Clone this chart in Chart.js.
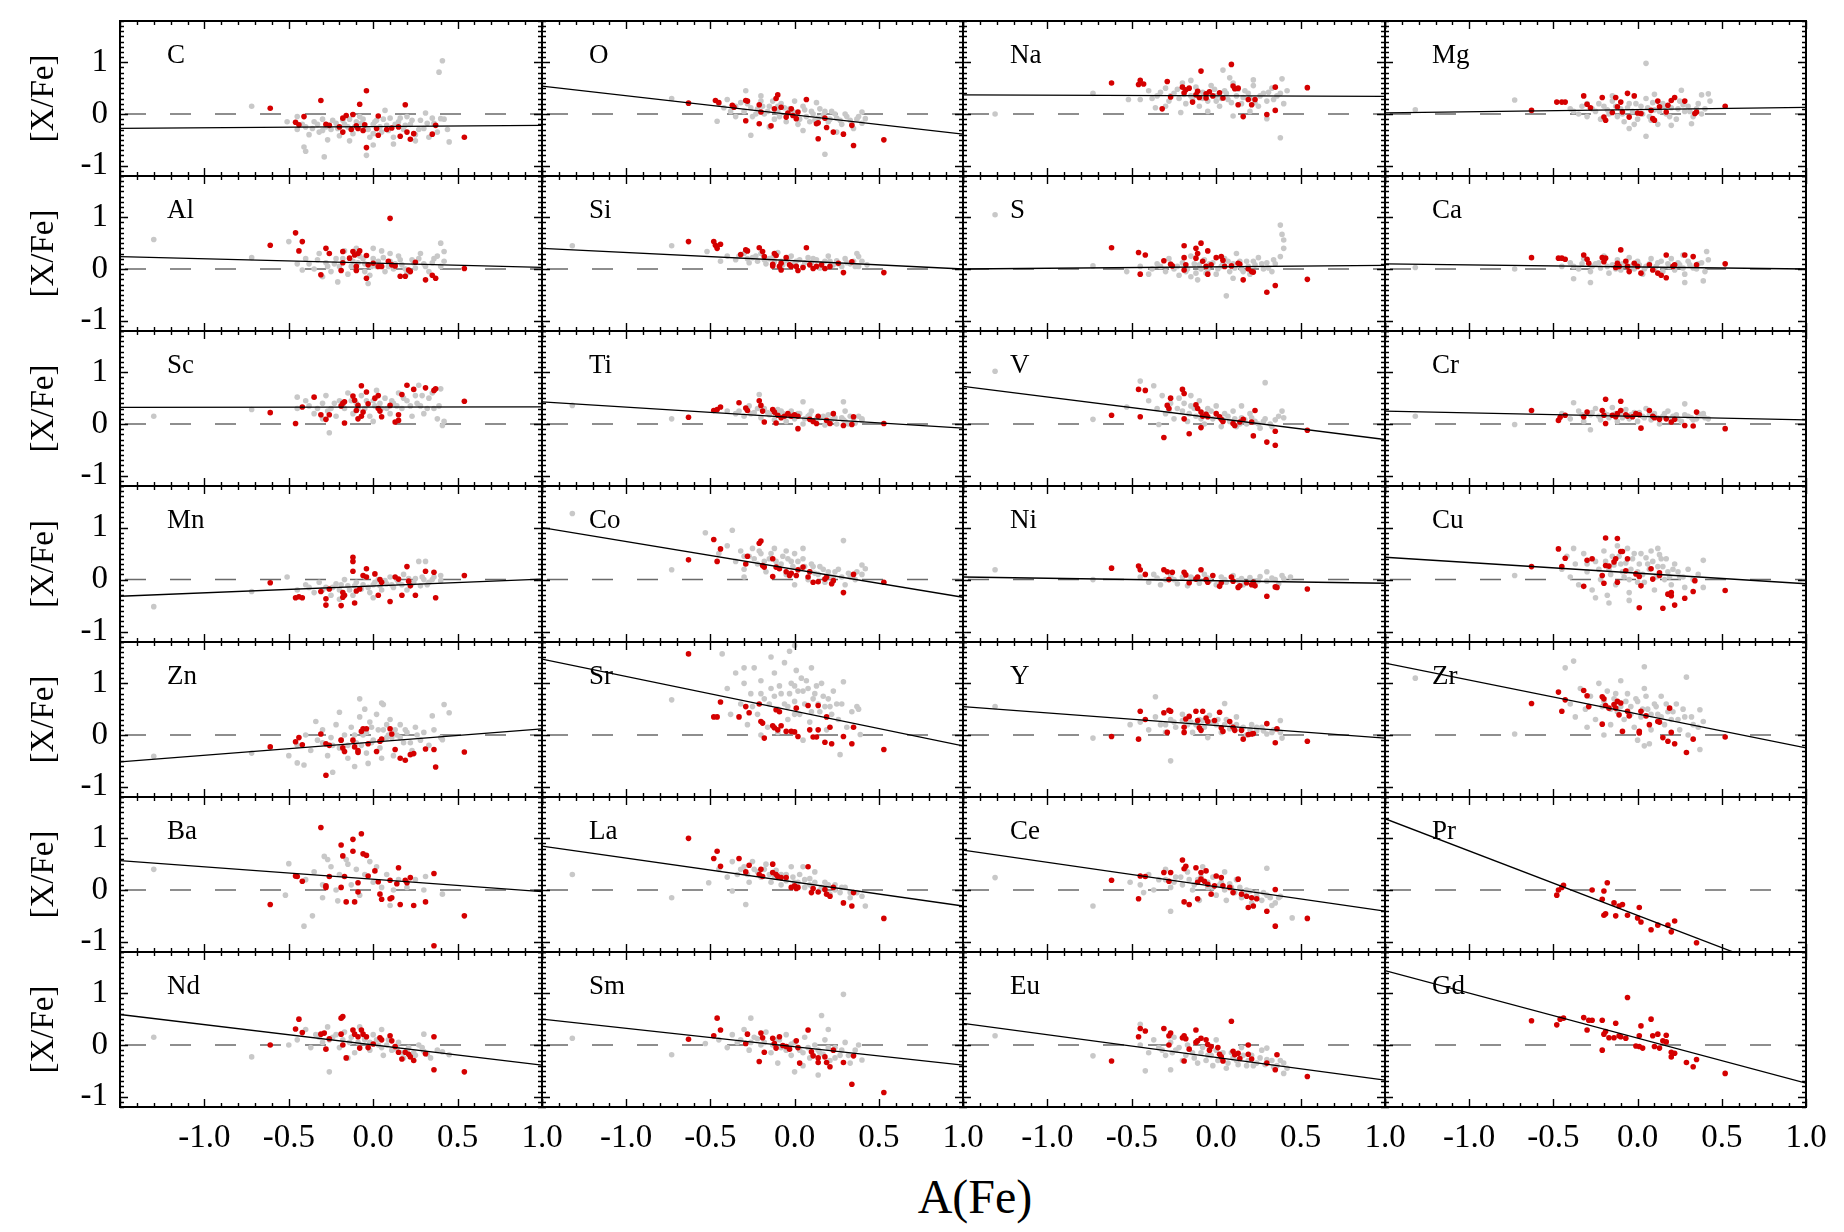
<!DOCTYPE html>
<html><head><meta charset="utf-8">
<script src="https://cdn.jsdelivr.net/npm/chart.js@4.4.1/dist/chart.umd.min.js"></script>
<style>
html,body{margin:0;padding:0;background:#fff;}
#wrap{position:relative;width:1844px;height:1232px;overflow:hidden;background:#fff;}
#wrap canvas{position:absolute;}
#xtitle{position:absolute;left:775px;width:400px;top:1173px;text-align:center;font:48px "Liberation Serif";line-height:48px;color:#000;}
#fontprobe{position:absolute;left:-500px;top:-100px;font:33px "Liberation Serif";}
</style></head><body><div id="wrap"><div id="xtitle">A(Fe)</div></div><span id="fontprobe">[X/Fe] -1.0 CNaMg</span>
<script>
// ---- axis settings / tick labels ----
const xRange = [-1.5, 1.0];
const yRange = [-1.2, 1.8];
const xTickValues = [-1.0, -0.5, 0.0, 0.5, 1.0];
const yTickValues = [-1, 0, 1];
const elements = ['C','O','Na','Mg','Al','Si','S','Ca','Sc','Ti','V','Cr','Mn','Co','Ni','Cu','Zn','Sr','Y','Zr','Ba','La','Ce','Pr','Nd','Sm','Eu','Gd'];
// fit line: [X/Fe] at A(Fe)=-1.5 and at A(Fe)=1.0
const fitAtLeft  = [-0.28,0.54,0.37,0.02, 0.24,0.40,0.00,0.10, 0.32,0.43,0.73,0.25, -0.32,1.00,0.05,0.43, -0.52,1.47,0.55,1.39, 0.57,0.85,0.77,1.38, 0.59,0.50,0.42,1.44];
const fitAtRight = [-0.22,-0.39,0.34,0.13, 0.03,0.00,0.07,0.00, 0.33,-0.08,-0.30,0.08, 0.01,-0.34,-0.07,-0.08, 0.12,-0.21,-0.06,-0.25, -0.03,-0.31,-0.41,-1.74, -0.39,-0.39,-0.68,-0.74];

// ---- data: flat [x,y,x,y,...] pairs ----
const C_red=[-0.61,0.11,-0.31,0.26,-0.04,0.45,-0.08,0.19,0.19,0.18,-0.41,-0.05,-0.46,-0.16,-0.44,-0.21,-0.28,-0.2,-0.26,-0.22,-0.18,-0.08,-0.16,-0.03,-0.12,-0.01,-0.18,-0.35,-0.10,-0.23,-0.09,-0.28,-0.05,-0.21,-0.04,-0.65,0.02,-0.28,0.03,-0.04,0.03,-0.41,0.11,-0.27,0.15,-0.25,0.16,-0.43,0.22,-0.49,0.24,-0.38,0.37,-0.22,0.35,-0.39,0.54,-0.45,-0.13,-0.30,-0.2,-0.25,0.08,-0.3,0.2,-0.35,-0.06,-0.32];
const C_gray=[-0.72,0.15,0.39,0.81,0.41,1.03,-0.41,-0.64,-0.40,-0.72,-0.29,-0.83,-0.04,-0.80,0.45,-0.54,0.40,-0.09,0.31,0.02,0.07,0.07,-0.51,-0.15,-0.45,-0.30,-0.40,-0.25,-0.35,-0.15,-0.32,-0.35,-0.3,-0.1,-0.25,-0.3,-0.22,-0.18,-0.2,-0.42,-0.18,-0.12,-0.15,-0.25,-0.12,-0.38,-0.1,-0.15,-0.08,-0.05,-0.05,-0.3,-0.02,-0.45,0,-0.2,0.02,-0.12,0.05,-0.35,0.08,-0.22,0.1,-0.08,0.12,-0.45,0.15,-0.15,0.18,-0.3,0.2,-0.05,0.22,-0.2,0.25,-0.4,0.28,-0.12,0.3,-0.28,0.33,-0.45,0.36,-0.18,0.38,-0.35,0.42,-0.1,0.44,-0.3,-0.38,-0.4,-0.27,-0.5,-0.14,-0.52,0.0,-0.6,0.12,-0.58,-0.45,-0.05,-0.06,-0.1,0.25,-0.52,
 -0.42,-0.2,-0.36,-0.28,-0.33,-0.2,-0.28,-0.25,-0.24,-0.12,-0.21,-0.28,-0.17,-0.2,-0.14,-0.1,-0.11,-0.25,-0.07,-0.18,-0.03,-0.3,0.01,-0.15,0.04,-0.25,0.06,-0.1,0.09,-0.32,0.13,-0.2,0.16,-0.08,0.19,-0.22,0.23,-0.12,0.27,-0.3,0.32,-0.18,0.35,-0.08,-0.3,-0.32,0.0,-0.38];
const O_red=[-0.63,0.21,-0.47,0.26,-0.45,0.22,-0.37,0.17,-0.36,0.13,-0.29,0.26,-0.28,0.25,-0.21,0.18,-0.2,0.04,-0.29,-0.13,-0.21,-0.19,-0.14,-0.23,-0.11,0.30,-0.1,0.37,-0.12,0.1,-0.08,0.13,-0.04,0.02,-0.05,-0.06,-0.01,-0.03,0.01,-0.09,0.07,0.28,0.13,-0.19,0.14,-0.17,0.14,-0.48,0.19,-0.26,0.18,-0.08,0.23,-0.35,0.29,-0.39,0.34,-0.22,0.35,-0.61,0.53,-0.5,-0.02,0.1,0.02,0.04];
const O_gray=[-0.73,0.3,-0.29,0.45,-0.26,-0.41,0.18,-0.78,-0.46,-0.14,0.42,-0.09,0.40,0.04,-0.45,0.2,-0.4,0.28,-0.35,0.15,-0.3,0.05,-0.28,0.2,-0.25,-0.05,-0.22,0.1,-0.2,0.25,-0.18,0.0,-0.15,0.15,-0.12,-0.1,-0.1,0.05,-0.08,0.2,-0.05,-0.15,-0.03,0.1,0,0,0.02,-0.2,0.05,0.15,0.07,-0.05,0.1,0.05,0.12,-0.12,0.15,0.1,0.17,-0.02,0.2,-0.15,0.22,0.05,0.25,-0.08,0.28,-0.2,0.3,0.0,0.33,-0.12,0.35,-0.28,0.38,-0.05,0.4,-0.18,-0.35,-0.05,-0.15,-0.25,0.05,-0.32,0.25,-0.35,0.0,0.25,-0.2,0.35,0.13,0.22,
 -0.42,0.12,-0.38,0.05,-0.32,0.22,-0.26,0.12,-0.23,0.0,-0.19,0.15,-0.16,0.05,-0.13,0.25,-0.09,-0.05,-0.06,0.12,-0.01,0.05,0.03,-0.1,0.06,0.08,0.09,-0.15,0.11,0.0,0.14,-0.08,0.18,0.05,0.21,-0.1,0.24,0.0,0.27,-0.12,0.31,-0.05,0.34,-0.18,0.37,-0.1,-0.1,0.15];
const Na_red=[-0.62,0.60,-0.46,0.57,-0.45,0.65,-0.43,0.58,-0.29,0.63,-0.32,0.10,-0.27,0.33,-0.2,0.52,-0.19,0.41,-0.18,0.47,-0.16,0.5,-0.12,0.37,-0.11,0.44,-0.09,0.83,-0.1,0.32,-0.06,0.31,-0.04,0.43,-0.02,0.35,0.02,0.41,0.04,0.31,0.09,0.96,0.10,0.54,0.11,0.49,0.13,0.5,0.13,0.18,0.16,-0.05,0.19,0.28,0.21,0.18,0.23,0.28,0.30,-0.01,0.35,0.07,0.35,0.52,0.54,0.51,-0.06,0.39,-0.14,0.23];
const Na_gray=[-1.31,0.0,-0.73,0.4,-0.52,0.28,-0.45,0.28,-0.36,0.12,-0.21,0.03,0.04,0.85,0.10,-0.04,0.38,-0.46,0.39,0.68,0.22,0.66,0.3,-0.09,-0.4,0.45,-0.35,0.35,-0.3,0.5,-0.28,0.25,-0.25,0.4,-0.22,0.3,-0.2,0.6,-0.18,0.2,-0.15,0.35,-0.12,0.52,-0.1,0.15,-0.08,0.42,-0.05,0.25,-0.03,0.55,0,0.35,0.02,0.15,0.05,0.45,0.07,0.28,0.1,0.6,0.12,0.35,0.15,0.2,0.17,0.45,0.2,0.3,0.22,0.55,0.25,0.15,0.28,0.4,0.3,0.25,0.33,0.5,0.36,0.35,0.4,0.2,0.42,0.45,-0.3,0.15,-0.05,0.05,0.2,0.05,-0.15,0.65,0.08,0.7,
 -0.38,0.3,-0.33,0.42,-0.27,0.35,-0.23,0.48,-0.19,0.38,-0.14,0.28,-0.11,0.45,-0.06,0.38,-0.01,0.48,0.03,0.3,0.06,0.4,0.09,0.22,0.13,0.48,0.16,0.32,0.19,0.4,0.23,0.22,0.26,0.35,0.31,0.42,0.34,0.28,0.38,0.4,-0.08,0.3,0.0,0.25];
const Mg_red=[-0.63,0.07,-0.48,0.23,-0.45,0.23,-0.43,0.23,-0.32,0.35,-0.30,0.19,-0.28,0.12,-0.21,0.32,-0.2,-0.06,-0.19,-0.12,-0.15,0.03,-0.13,0.32,-0.12,0.14,-0.1,0.23,-0.09,0.04,-0.06,0.40,-0.05,-0.06,-0.02,0.35,0,0.02,0.02,0.01,0.08,0.07,0.09,-0.09,0.1,-0.12,0.12,0.25,0.13,0.14,0.17,0.04,0.18,0.17,0.2,0.26,0.22,0.32,0.28,0.25,0.34,0.01,0.35,0.04,0.52,0.15];
const Mg_gray=[-1.32,0.08,-0.73,0.27,0.05,0.98,0.05,-0.43,0.32,-0.19,0.26,0.46,0.42,0.39,0.38,0.37,0.2,-0.22,-0.4,0.1,-0.35,0.0,-0.3,0.2,-0.25,0.05,-0.22,-0.1,-0.2,0.15,-0.17,0.0,-0.15,0.25,-0.12,-0.05,-0.1,0.1,-0.08,-0.15,-0.05,0.2,-0.03,0.05,0,-0.1,0.02,0.15,0.05,0.3,0.07,-0.05,0.1,0.08,0.12,-0.2,0.15,0.2,0.17,0.0,0.2,0.12,0.23,-0.1,0.25,0.25,0.28,0.05,0.3,0.15,0.33,-0.05,0.36,0.2,0.4,0.1,0.43,0.25,-0.3,-0.05,-0.05,-0.28,0.1,0.38,-0.15,0.35,
 -0.38,0.05,-0.33,0.15,-0.27,0.1,-0.23,0.2,-0.18,0.08,-0.13,0.15,-0.09,0.0,-0.06,0.12,-0.01,0.2,0.03,0.0,0.06,0.12,0.09,0.22,0.13,0.05,0.16,0.15,0.19,-0.05,0.24,0.1,0.27,0.18,0.31,0.05,0.35,0.1,0.38,0.0,-0.02,-0.2,0.08,-0.12];
const Al_red=[-0.61,0.46,-0.46,0.70,-0.42,0.53,-0.44,0.35,-0.31,-0.11,-0.28,0.4,-0.26,0.30,-0.18,0.34,-0.18,0.12,-0.19,-0.03,-0.12,0.34,-0.11,0.27,-0.09,0.3,-0.08,0.35,-0.1,0.05,-0.1,-0.03,-0.04,0.26,-0.04,-0.18,-0.03,0.08,0.03,0.05,0.05,0.05,0.1,0.98,0.09,0.15,0.11,0.08,0.13,0.06,0.16,-0.14,0.19,-0.14,0.21,-0.02,0.22,-0.05,0.25,0.13,0.31,-0.21,0.35,-0.12,0.37,-0.18,0.54,0.01,-0.14,0.21,0,0.11];
const Al_gray=[-1.30,0.57,-0.72,0.22,-0.50,0.53,0.40,0.50,0.42,0.34,-0.03,-0.28,-0.21,-0.25,-0.42,-0.02,-0.45,0.1,-0.4,0.2,-0.35,0.0,-0.32,0.3,-0.28,0.12,-0.25,-0.05,-0.22,0.2,-0.2,0.05,-0.17,0.35,-0.15,-0.1,-0.12,0.15,-0.1,0.0,-0.08,0.25,-0.05,0.1,-0.02,-0.12,0,0.2,0.02,0.05,0.05,0.35,0.07,-0.05,0.1,0.15,0.12,0.0,0.15,0.25,0.17,0.08,0.2,-0.08,0.23,0.18,0.25,0.02,0.28,0.3,0.3,0.1,0.33,-0.05,0.36,0.2,0.4,0.05,0.42,0.15,-0.3,-0.15,0.0,0.4,-0.1,0.4,
 -0.38,0.1,-0.33,0.18,-0.27,0.05,-0.23,0.1,-0.18,0.2,-0.13,0.05,-0.09,0.12,-0.06,0.2,-0.01,0.05,0.03,0.15,0.06,0.22,0.09,0.05,0.13,0.1,0.16,0.18,0.19,0.0,0.24,0.12,0.27,0.2,0.31,0.05,0.35,0.12,0.38,0.25,-0.05,-0.05,0.1,0.3];
const Si_red=[-0.63,0.53,-0.48,0.53,-0.47,0.46,-0.46,0.4,-0.44,0.48,-0.32,0.28,-0.29,0.37,-0.28,0.35,-0.21,0.41,-0.19,0.34,-0.18,0.24,-0.13,0.09,-0.13,0.06,-0.12,0.30,-0.11,0.26,-0.09,0.05,-0.08,-0.02,-0.05,0.22,-0.03,0.08,-0.02,0.05,0.01,0.05,0.02,-0.03,0.07,0.41,0.09,0.08,0.11,0.01,0.13,0.05,0.16,0.08,0.18,0.01,0.21,0.05,0.26,0.11,0.29,-0.07,0.34,0.14,0.53,-0.07,0.05,0.03,-0.08,0.11];
const Si_gray=[-1.32,0.45,-0.73,0.45,-0.52,0.34,-0.44,0.15,0.37,0.30,0.38,0.24,-0.4,0.25,-0.35,0.18,-0.3,0.3,-0.27,0.12,-0.25,0.22,-0.22,0.15,-0.2,0.3,-0.17,0.1,-0.15,0.2,-0.12,0.14,-0.1,0.32,-0.07,0.08,-0.05,0.16,-0.02,0.25,0,0.1,0.03,0.18,0.05,0.05,0.08,0.22,0.1,0.12,0.13,0.18,0.15,0.02,0.18,0.15,0.2,0.25,0.23,0.08,0.25,0.16,0.28,0.05,0.3,0.2,0.33,0.1,0.36,0.05,0.4,0.15,0.43,0.08,
 -0.33,0.25,-0.28,0.2,-0.23,0.25,-0.18,0.18,-0.13,0.22,-0.08,0.15,-0.04,0.22,0.01,0.15,0.06,0.12,0.11,0.2,0.16,0.1,0.21,0.15,0.26,0.1,0.31,0.12,0.35,0.15,0.38,0.05];
const S_red=[-0.62,0.41,-0.46,0.32,-0.42,0.27,-0.45,-0.10,-0.31,0.16,-0.27,0.09,-0.26,0.06,-0.19,0.45,-0.19,0.22,-0.18,0.08,-0.19,-0.02,-0.12,0.4,-0.11,0.3,-0.12,0.21,-0.09,0.5,-0.08,0.15,-0.06,0.05,-0.05,0.35,-0.05,-0.10,-0.03,0.08,0,0.22,0.03,0.24,0.04,0.17,0.05,0.05,0.09,0.06,0.13,0.11,0.14,0.09,0.16,-0.21,0.19,0,0.21,-0.05,0.22,-0.06,0.30,-0.45,0.35,-0.32,0.54,-0.2];
const S_gray=[0.38,0.85,0.39,0.67,0.40,0.56,0.4,0.4,0.38,0.24,-1.31,1.05,-0.73,0.06,-0.53,-0.05,0.06,-0.52,-0.11,-0.21,-0.45,0.05,-0.4,-0.1,-0.35,0.1,-0.3,-0.05,-0.28,0.2,-0.25,0.0,-0.22,-0.12,-0.2,0.12,-0.17,0.0,-0.15,0.25,-0.12,-0.08,-0.1,0.08,-0.07,0.18,-0.05,-0.02,-0.02,0.12,0,-0.1,0.03,0.05,0.05,0.2,0.08,-0.05,0.1,0.1,0.12,0.3,0.15,0.0,0.18,0.15,0.2,-0.1,0.23,0.08,0.25,0.22,0.28,0.0,0.3,0.12,0.33,-0.05,0.35,0.1,-0.15,-0.15,0.1,-0.18,
 -0.38,0.0,-0.33,0.05,-0.27,0.1,-0.23,0.05,-0.18,-0.05,-0.13,0.1,-0.09,0.0,-0.04,0.1,0.01,0.0,0.04,0.1,0.07,0.15,0.11,0.02,0.14,0.15,0.19,0.05,0.22,0.15,0.27,0.1,0.31,0.02,0.34,0.18,-0.06,-0.08,0.16,-0.05];
const Ca_red=[-0.63,0.22,-0.47,0.21,-0.45,0.21,-0.43,0.19,-0.32,0.27,-0.30,0.19,-0.29,0.11,-0.21,0.22,-0.2,0.14,-0.19,0.21,-0.1,0.37,-0.12,0.11,-0.11,0.05,-0.13,0.03,-0.07,0.15,-0.06,0.05,-0.05,-0.05,-0.02,0.11,0,0.05,0.02,-0.08,0.07,0.08,0.09,-0.02,0.12,-0.08,0.14,-0.12,0.17,-0.17,0.17,0.27,0.21,0.05,0.22,0.08,0.28,0.27,0.33,0.24,0.35,0.08,0.52,0.1];
const Ca_gray=[-1.32,0.03,-0.73,0,-0.38,-0.19,-0.28,-0.26,0.28,-0.26,0.39,-0.23,0.41,0.34,0.27,0.27,-0.45,0.05,-0.4,0.12,-0.35,0.0,-0.32,0.2,-0.28,-0.05,-0.25,0.1,-0.22,0.02,-0.2,0.25,-0.17,-0.08,-0.15,0.08,-0.12,0.18,-0.1,-0.02,-0.07,0.1,-0.05,0.22,-0.02,0.0,0,0.15,0.03,-0.1,0.05,0.05,0.08,0.2,0.1,0.0,0.12,0.12,0.15,-0.05,0.18,0.1,0.2,0.2,0.22,-0.02,0.25,0.08,0.28,-0.1,0.3,0.15,0.33,0.02,0.36,0.1,0.4,-0.05,0.42,0.18,
 -0.38,0.05,-0.33,0.1,-0.27,0.05,-0.23,0.12,-0.18,0.05,-0.13,0.0,-0.09,0.1,-0.04,0.05,0.01,0.08,0.04,0.0,0.07,0.1,0.11,0.05,0.14,0.15,0.19,0.05,0.24,0.12,0.27,0.02,0.31,0.08,0.35,0.0,0.38,0.12];
const Sc_red=[-0.61,0.22,-0.46,0.01,-0.42,0.33,-0.35,0.52,-0.31,0.18,-0.28,0.09,-0.26,0.18,-0.19,0.35,-0.18,0.4,-0.17,0.43,-0.17,0.02,-0.12,0.54,-0.11,0.46,-0.09,0.36,-0.1,0.26,-0.09,0.1,-0.07,0.74,-0.07,0.15,-0.06,0.23,-0.04,0.62,-0.03,0.39,0.01,0.5,0.03,0.55,0.03,0.3,0.04,0.25,0.05,0.14,0.1,0.36,0.13,0.04,0.15,0.07,0.15,0.18,0.17,0.57,0.2,0.75,0.24,0.67,0.31,0.7,0.36,0.65,0.37,0.68,0.54,0.44];
const Sc_gray=[-1.3,0.15,-0.72,0.28,-0.26,-0.17,0.41,-0.03,0.4,0.68,0.27,0.75,-0.45,0.52,-0.45,0.3,-0.4,0.45,-0.35,0.2,-0.3,0.4,-0.28,0.55,-0.25,0.3,-0.22,0.15,-0.2,0.45,-0.17,0.3,-0.15,0.6,-0.12,0.2,-0.1,0.4,-0.07,0.55,-0.05,0.3,-0.02,0.15,0,0.45,0.02,0.65,0.05,0.3,0.07,0.5,0.1,0.2,0.12,0.4,0.15,0.6,0.17,0.3,0.2,0.45,0.23,0.15,0.25,0.55,0.28,0.35,0.3,0.2,0.33,0.5,0.36,0.3,0.38,0.1,0.42,0.05,-0.3,0.1,0.0,0.05,
 -0.38,0.35,-0.33,0.3,-0.27,0.25,-0.23,0.4,-0.18,0.35,-0.13,0.45,-0.09,0.3,-0.04,0.45,0.01,0.35,0.04,0.4,0.08,0.3,0.11,0.45,0.14,0.35,0.18,0.5,0.22,0.35,0.26,0.4,0.29,0.55,0.32,0.3,0.35,0.6,0.39,0.35];
const Ti_red=[-0.63,0.13,-0.48,0.26,-0.46,0.28,-0.44,0.33,-0.33,0.41,-0.29,0.31,-0.28,0.26,-0.21,0.45,-0.2,0.36,-0.19,0.25,-0.18,0.04,-0.13,0.28,-0.12,0.23,-0.1,0.17,-0.08,0.12,-0.06,0.15,-0.11,0.02,-0.04,0.2,-0.02,0.15,0,0.18,0.02,0.15,0.02,-0.09,0.09,0.09,0.11,0.05,0.14,0.15,0.13,0.01,0.19,0.07,0.21,0.01,0.23,0.2,0.29,-0.03,0.34,-0.01,0.35,0.14,0.53,0.01];
const Ti_gray=[-1.32,0.36,-0.73,0.1,-0.21,0.57,0.05,0.43,0.29,0.43,0.3,0.25,0.4,0.07,-0.4,0.25,-0.35,0.2,-0.3,0.15,-0.27,0.35,-0.24,0.22,-0.2,0.12,-0.18,0.3,-0.15,0.18,-0.12,0.08,-0.1,0.28,-0.07,0.2,-0.05,0.05,-0.02,0.25,0,0.1,0.03,0.2,0.05,0.0,0.08,0.15,0.1,0.25,0.12,0.05,0.15,0.12,0.18,-0.02,0.2,0.18,0.22,0.08,0.25,0.0,0.28,0.12,0.3,0.05,0.33,0.15,0.36,0.02,0.4,0.1,
 -0.33,0.25,-0.26,0.2,-0.22,0.3,-0.16,0.22,-0.11,0.18,-0.08,0.25,-0.03,0.15,0.02,0.2,0.06,0.1,0.09,0.18,0.13,0.1,0.17,0.15,0.21,0.05,0.24,0.12,0.29,0.08,0.32,0.0,0.35,0.1,0.38,0.15];
const V_red=[-0.62,0.17,-0.46,0.67,-0.42,0.65,-0.45,0.14,-0.31,-0.26,-0.27,0.5,-0.29,0.36,-0.28,0.3,-0.2,0.67,-0.19,0.59,-0.19,0.1,-0.16,-0.19,-0.12,0.37,-0.11,0.3,-0.09,0.23,-0.08,0.15,-0.06,0.19,-0.05,0.14,-0.09,-0.07,0,0.2,0.02,0.14,0.03,0.09,0.04,0.05,0.1,0.01,0.11,-0.03,0.14,0.04,0.16,0.09,0.21,0.04,0.22,-0.23,0.23,0.26,0.30,-0.35,0.35,-0.41,0.35,-0.14,0.54,-0.12];
const V_gray=[-1.31,1.02,-0.73,0.09,-0.45,0.83,-0.37,0.74,0.29,0.8,0.39,0.25,0.4,0.12,-0.34,-0.01,-0.53,0.33,-0.4,0.45,-0.35,0.3,-0.32,0.55,-0.3,0.2,-0.27,0.4,-0.25,0.1,-0.22,0.5,-0.2,0.25,-0.17,0.05,-0.15,0.35,-0.12,0.15,-0.1,0.45,-0.07,0.0,-0.05,0.3,-0.02,0.1,0,0.35,0.03,-0.05,0.05,0.2,0.08,0.05,0.1,0.25,0.12,-0.05,0.15,0.12,0.18,0.0,0.2,0.2,0.23,0.05,0.26,-0.08,0.29,0.1,0.32,0.0,0.35,0.08,-0.15,0.55,0.15,0.35,
 -0.28,0.25,-0.23,0.3,-0.19,0.4,-0.16,0.2,-0.13,0.3,-0.09,0.1,-0.06,0.2,-0.03,0.25,0.01,0.15,0.04,0.08,0.07,0.15,0.11,0.1,0.14,0.0,0.17,0.08,0.21,0.12,0.25,0.0,0.28,0.05,0.33,-0.05,0.37,0.15];
const Cr_red=[-0.63,0.26,-0.47,0.07,-0.46,0.13,-0.43,0.17,-0.32,0.14,-0.30,0.23,-0.21,0.26,-0.2,0.17,-0.19,0.48,-0.19,0.01,-0.15,0.17,-0.13,0.14,-0.12,0.2,-0.1,0.44,-0.1,0.26,-0.07,0.18,-0.06,0.15,-0.03,0.14,-0.01,0.2,0.01,0.18,0.02,-0.08,0.07,0.26,0.09,0.15,0.1,0.12,0.13,0.09,0.17,0.1,0.2,0.04,0.22,0.09,0.28,-0.03,0.33,-0.04,0.35,0.23,0.52,-0.09];
const Cr_gray=[-1.32,0.15,-0.73,-0.01,-0.28,-0.11,-0.38,0.41,0.28,0.39,0.39,0.2,0.42,0.1,-0.45,0.2,-0.4,0.1,-0.35,0.25,-0.32,0.05,-0.28,0.18,-0.25,0.3,-0.22,0.08,-0.2,0.22,-0.17,0.12,-0.15,0.32,-0.12,0.05,-0.1,0.18,-0.07,0.28,-0.05,0.1,-0.02,0.22,0,0.05,0.03,0.15,0.05,0.3,0.08,0.08,0.1,0.2,0.13,0.0,0.15,0.15,0.18,0.25,0.2,0.1,0.23,0.18,0.26,0.05,0.3,0.15,0.33,0.08,0.36,0.2,0.4,0.12,
 -0.33,0.18,-0.27,0.22,-0.23,0.15,-0.18,0.18,-0.13,0.2,-0.09,0.12,-0.04,0.18,0.01,0.22,0.04,0.12,0.07,0.18,0.12,0.12,0.16,0.2,0.21,0.15,0.24,0.1,0.28,0.18,0.32,0.12,0.35,0.1,0.38,0.18];
const Mn_red=[-0.61,-0.06,-0.46,-0.35,-0.44,-0.33,-0.42,-0.35,-0.31,-0.23,-0.28,-0.49,-0.28,-0.37,-0.26,-0.18,-0.18,-0.25,-0.18,-0.34,-0.17,-0.3,-0.19,-0.5,-0.12,0.43,-0.12,0.35,-0.12,0.16,-0.11,-0.45,-0.1,-0.22,-0.08,-0.18,-0.06,0.08,-0.04,0.05,-0.04,0.21,0.01,0.11,0.03,-0.3,0.04,0,0.05,-0.05,0.10,-0.42,0.13,0.05,0.15,0.01,0.17,-0.3,0.2,0.25,0.21,-0.03,0.22,-0.12,0.25,-0.3,0.31,0.16,0.36,0.14,0.37,-0.35,0.54,0.08];
const Mn_gray=[-1.3,-0.52,-0.72,-0.23,-0.51,0.05,0.27,0.35,0.31,0.35,0.4,0.08,-0.45,-0.2,-0.4,-0.1,-0.35,-0.25,-0.32,-0.05,-0.28,-0.15,-0.25,-0.3,-0.22,-0.08,-0.2,-0.2,-0.17,0.0,-0.15,-0.12,-0.12,-0.3,-0.1,-0.05,-0.07,-0.18,-0.05,0.05,-0.02,-0.25,0,-0.1,0.03,0.0,0.05,-0.2,0.08,-0.08,0.1,0.05,0.12,-0.15,0.15,-0.05,0.18,0.1,0.2,-0.2,0.23,-0.08,0.25,0.02,0.28,-0.12,0.3,0.0,0.33,-0.05,0.36,0.05,0.4,-0.02,-0.2,-0.38,0.0,-0.35,
 -0.38,-0.15,-0.3,-0.2,-0.24,-0.15,-0.19,-0.1,-0.14,-0.2,-0.11,-0.12,-0.06,-0.1,-0.03,-0.15,0.01,-0.05,0.04,-0.12,0.07,-0.02,0.11,-0.1,0.14,0.0,0.17,-0.1,0.21,0.02,0.24,-0.05,0.29,0.05,0.32,-0.1,0.35,0.0];
const Co_red=[-0.63,0.38,-0.48,0.77,-0.44,0.59,-0.46,0.35,-0.29,0.3,-0.28,0.45,-0.21,0.7,-0.2,0.74,-0.19,0.27,-0.18,0.24,-0.13,0.06,-0.13,0.4,-0.11,0.24,-0.09,0.21,-0.05,0.15,-0.03,0.08,-0.02,0.12,0.01,0.08,0.05,0.24,0.08,0.05,0.11,-0.05,0.14,-0.04,0.18,0.01,0.19,0.05,0.22,-0.08,0.23,-0.02,0.29,-0.25,0.35,0.1,0.53,-0.05,0.02,0.19,0.09,0.15];
const Co_gray=[-1.32,1.27,-0.73,0.19,-0.53,0.9,-0.37,0.95,0.29,0.75,0.4,0.28,0.42,0.21,-0.45,0.5,-0.4,0.65,-0.35,0.35,-0.32,0.55,-0.3,0.2,-0.27,0.45,-0.25,0.6,-0.22,0.3,-0.2,0.5,-0.17,0.15,-0.15,0.4,-0.12,0.6,-0.1,0.25,-0.07,0.45,-0.05,0.1,-0.02,0.35,0,0.5,0.03,0.2,0.05,0.4,0.08,0.0,0.1,0.3,0.12,0.12,0.15,0.25,0.18,-0.05,0.2,0.15,0.23,0.05,0.26,0.2,0.3,-0.1,0.33,0.05,0.37,0.15,-0.05,0.55,0.05,0.6,-0.3,0.05,0.0,-0.1,
 -0.3,0.45,-0.24,0.4,-0.21,0.55,-0.18,0.35,-0.14,0.5,-0.11,0.35,-0.08,0.3,-0.04,0.4,-0.01,0.25,0.02,0.35,0.06,0.25,0.09,0.15,0.11,0.25,0.14,0.1,0.17,0.2,0.21,0.05,0.24,0.15,0.28,0.05,0.32,0.12,0.36,0.0,0.4,0.1];
const Ni_red=[-0.62,0.22,-0.46,0.26,-0.45,0.19,-0.42,0.1,-0.31,0.19,-0.29,0.15,-0.26,0.14,-0.28,0,-0.19,0.14,-0.18,0.09,-0.16,-0.06,-0.12,0.01,-0.11,0.05,-0.09,0.19,-0.06,0,-0.05,-0.05,-0.02,0.08,0.02,-0.13,0.03,-0.06,0.09,0.05,0.1,-0.03,0.13,-0.15,0.14,-0.12,0.18,-0.06,0.21,-0.1,0.22,-0.05,0.23,-0.12,0.30,-0.32,0.35,-0.14,0.36,-0.15,0.54,-0.18];
const Ni_gray=[-1.31,0.19,-0.73,0,0.3,0.15,0.39,0.08,0.44,0.05,-0.45,0.05,-0.4,-0.05,-0.37,0.1,-0.33,-0.1,-0.3,0.0,-0.27,0.08,-0.23,-0.08,-0.2,0.05,-0.17,-0.12,-0.14,0.02,-0.1,-0.07,-0.07,0.1,-0.04,-0.02,0,-0.1,0.03,0.05,0.06,-0.05,0.1,0.08,0.13,-0.02,0.16,-0.1,0.2,0.04,0.23,-0.05,0.26,0.06,0.3,-0.03,0.33,0.03,0.37,-0.08,0.4,0.02,
 -0.35,0.03,-0.25,0.0,-0.15,0.05,-0.05,0.03,0.05,0.0,0.15,0.02,0.25,-0.02,0.35,0.0];
const Cu_red=[-0.63,0.25,-0.47,0.59,-0.43,0.41,-0.45,0.25,-0.32,-0.13,-0.30,0.37,-0.27,0.4,-0.21,0.08,-0.2,-0.07,-0.19,0.8,-0.19,0.27,-0.17,0.26,-0.14,0.34,-0.13,0.4,-0.12,-0.05,-0.12,0.79,-0.1,0.54,-0.09,0.54,-0.07,0.17,-0.06,0.4,-0.01,0.11,0.01,0.06,0.01,-0.54,0.02,-0.12,0.08,0.21,0.09,0.01,0.13,0.08,0.13,0.13,0.15,-0.55,0.18,-0.28,0.2,-0.25,0.2,-0.31,0.22,-0.49,0.28,-0.36,0.33,-0.23,0.34,-0.02,0.52,-0.21];
const Cu_gray=[-0.73,0.08,0.39,0.37,0.39,-0.15,-0.17,-0.45,-0.45,0.2,-0.42,0.45,-0.4,0.05,-0.37,0.3,-0.35,-0.1,-0.32,0.5,-0.3,0.15,-0.27,-0.2,-0.25,0.35,-0.22,0.0,-0.2,0.55,-0.18,-0.3,-0.17,0.2,-0.15,0.45,-0.13,-0.1,-0.1,0.3,-0.08,0.05,-0.06,0.6,-0.05,-0.25,-0.03,0.4,0,0.15,0.02,0.5,0.04,-0.05,0.06,0.3,0.08,0.55,0.1,-0.2,0.12,0.25,0.14,0.4,0.16,0.0,0.18,0.15,0.2,-0.1,0.22,0.3,0.25,0.05,0.28,-0.15,0.3,0.2,0.33,0.0,0.36,0.1,-0.25,-0.35,-0.05,-0.4,0.12,0.6,-0.12,0.65,-0.38,0.6,
 -0.23,0.2,-0.19,0.35,-0.16,0.1,-0.14,0.28,-0.11,0.45,-0.09,0.15,-0.07,0.32,-0.04,0.2,-0.02,0.5,0.01,0.3,0.03,0.1,0.05,0.42,0.07,0.2,0.09,0.35,0.11,0.05,0.13,0.48,0.15,0.25,0.17,0.4,0.19,0.05,0.21,0.2,0.24,0.15,0.27,0.05,-0.3,0.3,0.0,-0.05,-0.05,0.0];
const Zn_red=[-0.61,-0.23,-0.44,-0.05,-0.46,-0.13,-0.42,-0.19,-0.31,0.02,-0.28,-0.78,-0.28,-0.17,-0.26,-0.2,-0.19,-0.1,-0.18,-0.25,-0.17,-0.32,-0.12,-0.1,-0.11,-0.23,-0.09,-0.3,-0.09,-0.34,-0.07,0.07,-0.06,0.12,-0.04,0.12,-0.03,-0.17,0.02,-0.32,0.04,-0.12,0.05,-0.08,0.1,0.12,0.11,0.02,0.13,-0.28,0.16,-0.45,0.19,-0.49,0.22,-0.38,0.24,-0.36,0.31,-0.27,0.36,-0.28,0.37,-0.62,0.54,-0.33];
const Zn_gray=[-1.3,-0.41,-0.72,-0.35,-0.5,-0.4,-0.45,-0.54,-0.41,-0.58,-0.24,-0.72,-0.08,0.7,0.05,0.62,0.06,0.59,0.42,0.59,0.35,0.37,0.45,0.43,0.41,-0.09,-0.2,0.44,-0.34,0.26,-0.11,-0.61,-0.03,-0.55,-0.45,-0.2,-0.4,0.0,-0.37,-0.3,-0.33,-0.1,-0.3,0.1,-0.27,-0.4,-0.25,-0.05,-0.22,0.2,-0.2,-0.25,-0.17,0.0,-0.15,-0.45,-0.13,0.15,-0.1,-0.15,-0.08,0.35,-0.06,0.0,-0.04,-0.35,-0.02,0.25,0,-0.1,0.02,0.4,0.04,-0.25,0.06,0.1,0.08,-0.05,0.1,0.3,0.12,-0.4,0.14,0.0,0.16,0.2,0.18,-0.15,0.2,0.05,0.23,-0.3,0.25,0.15,0.28,-0.1,0.3,0.05,0.33,-0.2,0.36,0.1,0.4,-0.05,-0.05,0.5,0.05,-0.45,
 -0.3,-0.15,-0.24,-0.2,-0.19,-0.1,-0.15,-0.2,-0.11,0.0,-0.07,-0.2,-0.04,0.05,-0.01,-0.15,0.03,0.1,0.05,-0.1,0.08,0.2,0.11,-0.05,0.13,0.1,0.16,-0.05,0.19,0.1,0.22,-0.15,0.26,0.0,-0.01,0.15,0.09,0.0];
const Sr_red=[-0.63,1.57,-0.44,0.64,-0.48,0.35,-0.46,0.35,-0.33,0.35,-0.29,0.55,-0.27,0.43,-0.21,0.6,-0.19,0.23,-0.18,-0.06,-0.2,0.26,-0.13,0.18,-0.12,0.14,-0.11,0.49,-0.1,0.1,-0.09,0.45,-0.08,0.18,-0.05,0.07,-0.02,0.07,0,0.06,0.02,-0.03,0.01,0.52,0.08,0.57,0.09,0.1,0.11,-0.04,0.13,-0.04,0.14,0.1,0.14,0.57,0.18,-0.14,0.19,0.35,0.22,-0.17,0.21,0.15,0.29,-0.03,0.34,-0.17,0.35,0.15,0.53,-0.28];
const Sr_gray=[-0.73,0.68,-0.43,1.57,-0.14,1.51,-0.03,1.62,0,1.73,0.29,1.03,0.37,0.55,0.38,0.5,0.27,-0.38,0.39,0.01,-0.4,0.9,-0.38,0.4,-0.35,1.2,-0.32,0.6,-0.3,1.0,-0.28,0.2,-0.26,0.8,-0.24,1.3,-0.22,0.4,-0.2,1.05,-0.18,0.7,-0.16,0.15,-0.14,0.9,-0.12,1.2,-0.1,0.5,-0.08,0.8,-0.06,1.4,-0.04,0.3,-0.02,1.0,0,0.65,0.01,1.25,0.03,0.4,0.05,0.85,0.07,1.05,0.09,0.25,0.11,0.7,0.13,0.95,0.15,0.45,0.17,0.75,0.19,0.1,0.21,0.55,0.23,0.85,0.26,0.3,0.28,0.6,0.31,0.15,0.34,0.45,-0.2,0.0,0.05,-0.1,-0.1,0.05,0.0,0.95,0.1,1.3,-0.3,1.3,
 -0.15,0.6,-0.12,0.75,-0.09,0.95,-0.06,0.6,-0.03,0.8,0.0,0.4,0.02,0.85,0.04,1.1,0.06,0.6,0.08,0.9,0.1,0.45,0.12,0.8,0.14,0.6,0.16,1.0,0.18,0.55,0.2,0.7,0.22,0.4,0.25,0.6,-0.2,0.8,-0.25,0.55,-0.04,0.55];
const Y_red=[-0.62,-0.03,-0.46,-0.08,-0.45,0.46,-0.42,0.3,-0.31,0.43,-0.29,0.05,-0.28,0.48,-0.27,0.46,-0.19,0.05,-0.19,0.15,-0.18,0.31,-0.16,0.36,-0.12,0.46,-0.11,0.28,-0.1,0.14,-0.09,0.09,-0.08,0.46,-0.06,0.33,-0.05,0.26,-0.01,0.28,0.02,0.44,0.03,0.14,0.04,0.07,0.08,0.26,0.1,0.15,0.11,0.09,0.15,0.09,0.16,-0.08,0.19,0.01,0.21,0.02,0.22,0.03,0.30,0.22,0.35,-0.15,0.36,0.12,0.54,-0.12];
const Y_gray=[-1.31,0.55,-0.73,-0.06,-0.27,-0.5,-0.36,0.74,0.05,0.61,0.38,0.28,0.39,-0.06,-0.51,0.2,-0.45,0.25,-0.4,0.1,-0.36,0.35,-0.33,0.2,-0.3,0.05,-0.27,0.3,-0.24,0.15,-0.2,0.4,-0.17,0.2,-0.14,0.05,-0.1,0.3,-0.07,0.15,-0.04,0.38,0,0.2,0.03,0.05,0.06,0.3,0.09,0.18,0.12,0.35,0.15,0.12,0.18,0.0,0.21,0.2,0.24,0.08,0.27,0.15,0.3,0.02,0.34,0.1,0.38,0.05,-0.05,-0.05,
 -0.3,0.2,-0.25,0.25,-0.2,0.28,-0.15,0.25,-0.12,0.2,-0.08,0.28,-0.03,0.25,0.01,0.3,0.05,0.2,0.08,0.12,0.12,0.2,0.16,0.15,0.2,0.1,0.24,0.15,0.28,0.08,0.33,0.05];
const Zr_red=[-0.63,0.61,-0.47,0.83,-0.45,0.46,-0.43,0.68,-0.32,0.86,-0.30,0.76,-0.29,0.55,-0.21,0.74,-0.2,0.7,-0.21,0.21,-0.19,0.57,-0.17,0.52,-0.14,0.59,-0.13,0.52,-0.12,0.65,-0.11,0.39,-0.1,0.62,-0.09,0.07,-0.06,0.46,-0.05,0.37,0.01,0.07,0.01,0.04,0.02,0.46,0.05,0.37,0.07,0.2,0.12,0.26,0.13,0.25,0.15,-0.05,0.18,-0.12,0.19,0.52,0.2,0.05,0.22,-0.17,0.29,-0.34,0.33,-0.08,0.52,-0.04];
const Zr_gray=[-1.32,1.1,-0.73,0.02,-0.43,1.3,-0.38,1.43,0.04,1.32,0.29,1.12,0.37,0.49,0.39,0.26,0.04,-0.21,0.07,-0.17,0.37,-0.28,-0.4,0.6,-0.37,0.35,-0.34,0.9,-0.31,0.5,-0.28,0.75,-0.25,0.3,-0.23,1.0,-0.21,0.55,-0.18,0.85,-0.16,0.2,-0.14,0.7,-0.12,0.45,-0.1,1.05,-0.08,0.3,-0.06,0.8,-0.04,0.55,-0.02,0.15,0,0.65,0.02,0.35,0.04,0.9,0.06,0.5,0.08,0.1,0.1,0.6,0.12,0.4,0.14,0.75,0.16,0.2,0.18,0.45,0.2,0.3,0.23,0.6,0.25,0.1,0.28,0.35,0.3,0.0,0.33,0.2,-0.2,0.0,0.0,-0.1,-0.3,0.15,
 -0.2,0.65,-0.16,0.5,-0.13,0.8,-0.1,0.55,-0.07,0.65,-0.04,0.4,-0.01,0.7,0.03,0.5,0.05,0.75,0.08,0.4,0.11,0.55,0.14,0.35,0.17,0.6,0.21,0.45,0.24,0.3,0.27,0.5,0.32,0.35,0.36,0.15];
const Ba_red=[-0.61,-0.28,-0.46,0.27,-0.45,0.26,-0.42,0.17,-0.31,1.21,-0.28,0.08,-0.28,0.05,-0.26,0.26,-0.19,0.87,-0.18,0.66,-0.19,0.05,-0.16,-0.23,-0.17,0.26,-0.12,0.98,-0.12,0.75,-0.11,-0.23,-0.09,0.14,-0.09,-0.04,-0.07,1.09,-0.06,0.7,-0.04,0.67,-0.03,0.27,0.01,0.37,0.03,0.16,0.04,-0.08,0.05,-0.18,0.1,-0.17,0.11,-0.15,0.1,0.19,0.14,0.12,0.15,0.43,0.16,-0.28,0.19,0.19,0.2,0.14,0.22,0.24,0.24,-0.3,0.31,-0.23,0.36,0.32,0.54,-0.5,0.36,-1.08];
const Ba_gray=[-1.3,0.4,-0.5,0.51,-0.52,-0.1,-0.41,-0.7,-0.36,-0.5,-0.29,0.65,-0.27,0.59,-0.16,0.59,0.41,-0.08,0.31,0.26,-0.21,-0.21,-0.4,0.2,-0.35,0.35,-0.3,0.1,-0.25,0.45,-0.22,0.0,-0.2,0.3,-0.15,0.5,-0.13,0.1,-0.1,0.4,-0.08,-0.1,-0.05,0.3,-0.02,0.55,0,0.15,0.02,0.45,0.05,0.05,0.08,0.3,0.12,0.0,0.15,0.2,0.2,0.05,0.25,0.2,0.3,0.0,-0.3,-0.15,0.1,-0.3];
const La_red=[-0.63,1.0,-0.48,0.61,-0.46,0.75,-0.44,0.46,-0.33,0.61,-0.29,0.35,-0.27,0.48,-0.21,0.3,-0.2,0.4,-0.19,0.26,-0.13,0.5,-0.13,0.34,-0.11,0.3,-0.1,0.26,-0.08,0.24,-0.05,0.24,-0.02,0.05,0,0.08,0.01,0.03,0.02,0.05,0.08,0.45,0.1,-0.05,0.11,0.03,0.14,-0.04,0.18,0.01,0.19,-0.08,0.21,-0.12,0.23,0.05,0.29,-0.25,0.34,-0.31,0.35,-0.05,0.53,-0.55];
const La_gray=[-1.32,0.3,-0.73,-0.15,-0.29,-0.28,-0.51,0.14,-0.37,-0.02,0.4,-0.12,0.42,-0.31,-0.45,0.4,-0.4,0.25,-0.37,0.55,-0.34,0.3,-0.3,0.45,-0.27,0.15,-0.24,0.4,-0.2,0.25,-0.17,0.5,-0.14,0.15,-0.11,0.38,-0.08,0.1,-0.05,0.3,-0.02,0.45,0,0.15,0.03,0.3,0.06,0.05,0.09,0.22,0.12,0.35,0.15,0.0,0.18,0.15,0.21,-0.08,0.24,0.1,0.27,-0.05,0.3,0.05,0.33,-0.15,0.37,-0.05,0.05,0.45,-0.25,0.55,
 -0.32,0.4,-0.28,0.3,-0.22,0.35,-0.18,0.4,-0.15,0.3,-0.12,0.25,-0.08,0.3,-0.05,0.18,-0.01,0.25,0.02,0.15,0.06,0.2,0.09,0.1,0.12,0.15,0.16,0.05,0.2,0.1,0.24,0.0,0.28,0.05,0.33,-0.05];
const Ce_red=[-0.62,0.19,-0.46,-0.17,-0.45,0.27,-0.42,0.26,-0.31,0.34,-0.27,0.34,-0.28,0.17,-0.2,0.58,-0.19,0.41,-0.18,0.46,-0.19,-0.23,-0.16,-0.28,-0.12,0.43,-0.11,0.15,-0.09,0.34,-0.11,-0.17,-0.09,0.21,-0.07,0.17,-0.06,0.37,-0.05,0.11,-0.03,-0.08,-0.01,0.08,0,0.27,0.03,0.24,0.04,0.08,0.08,0.05,0.1,-0.05,0.13,0.21,0.15,-0.08,0.18,-0.12,0.19,-0.34,0.21,-0.15,0.22,-0.31,0.24,-0.17,0.30,-0.41,0.35,0.01,0.35,-0.7,0.54,-0.55];
const Ce_gray=[-1.31,0.24,-0.73,-0.31,-0.51,0.15,-0.43,-0.05,-0.27,-0.41,0.3,0.42,0.38,-0.12,0.45,-0.54,-0.45,0.1,-0.4,0.3,-0.37,0.0,-0.34,0.2,-0.3,0.4,-0.27,0.05,-0.24,0.25,-0.2,0.1,-0.17,0.35,-0.14,0.0,-0.11,0.2,-0.08,0.45,-0.05,0.05,-0.02,0.25,0,-0.1,0.03,0.15,0.06,-0.2,0.09,0.05,0.12,0.2,0.15,-0.15,0.18,0.0,0.21,-0.25,0.24,-0.05,0.27,-0.2,0.3,-0.1,0.33,-0.3,0.37,-0.15,-0.1,-0.2,0.05,0.35,
 -0.3,0.2,-0.25,0.15,-0.21,0.25,-0.16,0.2,-0.13,0.1,-0.09,0.25,-0.05,0.15,-0.02,0.05,0.02,0.1,0.05,0.0,0.08,0.12,0.11,-0.05,0.14,0.05,0.17,-0.1,0.2,-0.02,0.24,-0.12,0.28,-0.05,0.32,-0.15,0.35,-0.25];
const Pr_red=[-0.48,-0.1,-0.47,0.0,-0.45,0.05,-0.44,0.09,-0.27,0.0,-0.21,-0.18,-0.2,-0.02,-0.18,0.14,-0.2,-0.49,-0.19,-0.46,-0.14,-0.25,-0.13,-0.5,-0.11,-0.31,-0.09,-0.28,-0.06,-0.49,0,-0.54,0.01,-0.34,0.02,-0.62,0.08,-0.77,0.12,-0.68,0.18,-0.68,0.2,-0.81,0.22,-0.6,0.35,-1.02];
const Pr_gray=[];
const Nd_red=[-0.61,0,-0.46,0.31,-0.44,0.5,-0.42,0.24,-0.31,0.21,-0.29,0.23,-0.28,-0.08,-0.26,0.12,-0.19,0.52,-0.18,0.55,-0.19,0.21,-0.18,0,-0.16,-0.25,-0.12,0.29,-0.11,0.21,-0.09,0.16,-0.07,0.29,-0.06,0.21,-0.04,0.16,-0.08,-0.06,-0.03,-0.05,0,0.02,0.04,0.14,0.05,0.1,0.1,0.18,0.11,0.08,0.13,-0.03,0.15,-0.14,0.17,-0.27,0.19,-0.14,0.21,-0.18,0.22,-0.23,0.24,-0.3,0.31,-0.17,0.36,0.16,0.36,-0.48,0.54,-0.52];
const Nd_gray=[-1.3,0.15,-0.72,-0.23,-0.26,-0.52,0.3,0.21,0.41,-0.13,0.45,-0.19,-0.5,0.0,-0.45,0.1,-0.4,0.3,-0.37,-0.05,-0.34,0.2,-0.3,0.05,-0.27,0.35,-0.24,0.15,-0.2,-0.05,-0.17,0.25,-0.14,0.05,-0.11,-0.15,-0.08,0.35,-0.05,0.1,-0.02,-0.1,0,0.2,0.03,0.0,0.06,-0.2,0.09,0.1,0.12,-0.08,0.15,0.05,0.18,-0.25,0.21,-0.05,0.24,-0.15,0.27,0.0,0.3,-0.12,0.34,-0.25,0.38,-0.1,-0.15,-0.25,0.05,0.3,
 -0.32,0.15,-0.26,0.1,-0.22,0.2,-0.18,0.1,-0.13,0.15,-0.09,0.05,-0.05,0.15,-0.02,0.05,0.02,0.1,0.05,-0.05,0.08,0.0,0.11,-0.1,0.14,-0.05,0.17,-0.15,0.2,-0.1,0.25,-0.2,0.29,-0.05,0.32,-0.18];
const Sm_red=[-0.63,0.11,-0.48,0.18,-0.46,0.52,-0.44,0.29,-0.29,0.03,-0.28,0.21,-0.21,-0.32,-0.2,0.23,-0.19,0.14,-0.18,-0.14,-0.13,0.13,-0.12,0.03,-0.11,-0.06,-0.09,0.16,-0.07,-0.01,-0.05,-0.03,-0.03,-0.08,0.01,0.08,0.02,-0.05,0.03,-0.35,0.08,0.29,0.1,-0.13,0.11,-0.21,0.14,-0.25,0.14,-0.34,0.18,-0.23,0.19,-0.34,0.21,-0.42,0.23,-0.1,0.29,-0.34,0.34,-0.76,0.35,-0.21,0.53,-0.92];
const Sm_gray=[-1.32,0.13,-0.73,-0.19,0.29,0.98,0.16,0.57,0.14,-0.58,0,-0.52,-0.26,0.52,-0.53,0.03,0.4,-0.29,0.38,0.0,-0.45,0.1,-0.4,-0.05,-0.37,0.2,-0.34,0.05,-0.3,0.3,-0.27,-0.1,-0.24,0.15,-0.2,0.0,-0.17,0.25,-0.14,-0.15,-0.11,0.1,-0.08,-0.05,-0.05,0.2,-0.02,-0.2,0,0.05,0.03,-0.1,0.06,0.15,0.09,-0.25,0.12,0.0,0.15,-0.15,0.18,0.1,0.21,-0.3,0.24,-0.05,0.27,-0.2,0.3,0.05,0.33,-0.35,0.36,-0.1,-0.1,-0.35,0.05,-0.4,0.2,0.3,
 -0.32,0.1,-0.26,0.05,-0.22,0.12,-0.18,0.05,-0.13,0.0,-0.09,0.1,-0.05,-0.1,-0.02,0.02,0.02,-0.05,0.05,-0.15,0.08,-0.05,0.11,-0.2,0.14,-0.1,0.17,-0.18,0.2,-0.05,0.24,-0.25,0.28,-0.1,0.32,-0.2];
const Eu_red=[-0.62,-0.31,-0.46,0.16,-0.45,0.32,-0.42,0.27,-0.31,0.32,-0.28,0,-0.28,0.18,-0.27,0.23,-0.2,0.14,-0.19,0.18,-0.18,0.12,-0.19,-0.31,-0.16,-0.08,-0.12,0.29,-0.12,0.05,-0.11,0.08,-0.09,0.13,-0.06,0.1,-0.05,0.01,-0.04,-0.1,-0.03,-0.03,0.01,-0.05,0.02,-0.18,0.03,-0.23,0.04,-0.31,0.09,0.46,0.1,-0.12,0.11,-0.19,0.13,-0.16,0.14,-0.26,0.19,0,0.19,-0.18,0.21,-0.27,0.30,-0.35,0.35,-0.48,0.36,-0.19,0.54,-0.61];
const Eu_gray=[-1.31,0.18,-0.73,-0.21,-0.45,0.4,-0.42,-0.5,-0.27,-0.48,0.4,-0.55,0.3,-0.06,-0.45,0.0,-0.4,-0.15,-0.37,0.1,-0.34,-0.05,-0.3,-0.2,-0.27,0.05,-0.24,-0.1,-0.2,-0.3,-0.17,0.0,-0.14,-0.15,-0.11,-0.35,-0.08,-0.05,-0.05,-0.2,-0.02,-0.4,0,-0.1,0.03,-0.25,0.06,-0.45,0.09,-0.15,0.12,-0.3,0.15,-0.05,0.18,-0.4,0.21,-0.2,0.24,-0.35,0.27,-0.1,0.3,-0.28,0.34,-0.42,0.38,-0.3,0.42,-0.45,-0.25,0.15,0.0,0.1,
 -0.32,-0.1,-0.26,-0.15,-0.22,-0.05,-0.18,-0.2,-0.13,-0.25,-0.09,-0.15,-0.06,-0.3,-0.03,-0.2,0.01,-0.3,0.04,-0.15,0.07,-0.35,0.1,-0.25,0.13,-0.38,0.16,-0.2,0.19,-0.3,0.22,-0.4,0.26,-0.25,0.29,-0.38,0.33,-0.3,0.36,-0.4,0.4,-0.35];
const Gd_red=[-0.63,0.47,-0.48,0.39,-0.46,0.5,-0.44,0.52,-0.32,0.53,-0.30,0.29,-0.29,0.48,-0.27,0.48,-0.21,0.48,-0.21,-0.1,-0.2,0.21,-0.19,0.26,-0.17,0.14,-0.13,0.42,-0.14,0.14,-0.11,0.18,-0.1,0.16,-0.07,0.13,-0.06,0.92,-0.01,-0.02,0.01,0.18,0.02,0.37,0.01,-0.03,0.03,-0.06,0.08,0.5,0.09,0.18,0.1,-0.03,0.12,0.21,0.13,-0.06,0.15,0.08,0.17,0.19,0.17,0.06,0.2,-0.23,0.2,-0.14,0.22,-0.16,0.29,-0.34,0.33,-0.42,0.35,-0.28,0.52,-0.55];
const Gd_gray=[];

const RED = {C:C_red,O:O_red,Na:Na_red,Mg:Mg_red,Al:Al_red,Si:Si_red,S:S_red,Ca:Ca_red,Sc:Sc_red,Ti:Ti_red,V:V_red,Cr:Cr_red,Mn:Mn_red,Co:Co_red,Ni:Ni_red,Cu:Cu_red,Zn:Zn_red,Sr:Sr_red,Y:Y_red,Zr:Zr_red,Ba:Ba_red,La:La_red,Ce:Ce_red,Pr:Pr_red,Nd:Nd_red,Sm:Sm_red,Eu:Eu_red,Gd:Gd_red};
const GRAY = {C:C_gray,O:O_gray,Na:Na_gray,Mg:Mg_gray,Al:Al_gray,Si:Si_gray,S:S_gray,Ca:Ca_gray,Sc:Sc_gray,Ti:Ti_gray,V:V_gray,Cr:Cr_gray,Mn:Mn_gray,Co:Co_gray,Ni:Ni_gray,Cu:Cu_gray,Zn:Zn_gray,Sr:Sr_gray,Y:Y_gray,Zr:Zr_gray,Ba:Ba_gray,La:La_gray,Ce:Ce_gray,Pr:Pr_gray,Nd:Nd_gray,Sm:Sm_gray,Eu:Eu_gray,Gd:Gd_gray};

function pairs(a){const o=[];for(let i=0;i+1<a.length;i+=2)o.push({x:a[i],y:a[i+1]});return o;}

// ---- layout ----
const colX = [120, 541.5, 963, 1384.5, 1806].map(Math.round);
const rowY = [0,1,2,3,4,5,6,7].map(i => Math.round(21 + i*155.14));
const SERIF = '"Liberation Serif"';

const panelDecor = {
  id: 'panelDecor',
  beforeDatasetsDraw(chart, args, opts) {
    const {ctx, chartArea:a} = chart;
    ctx.save();
    ctx.font = '27px ' + SERIF;
    ctx.fillStyle = '#000';
    ctx.textBaseline = 'alphabetic';
    ctx.textAlign = 'left';
    ctx.fillText(opts.label, a.left + 47, a.top + 42);
    ctx.restore();
  },
  afterDatasetsDraw(chart) {
    const {ctx, chartArea:a, scales} = chart;
    const x = scales.x, y = scales.y;
    ctx.save();
    ctx.strokeStyle = '#000';
    ctx.lineWidth = 1.4;
    ctx.beginPath();
    for (let k = Math.round(yRange[0]*10); k <= Math.round(yRange[1]*10); k++) {
      const py = Math.round(y.getPixelForValue(k/10)) + 0.5;
      const len = (k % 10 === 0) ? 8 : 4;
      ctx.moveTo(a.left, py); ctx.lineTo(a.left + len, py);
      ctx.moveTo(a.right, py); ctx.lineTo(a.right - len, py);
    }
    for (let k = Math.round(xRange[0]*10); k <= Math.round(xRange[1]*10); k++) {
      const px = Math.round(x.getPixelForValue(k/10)) + 0.5;
      const len = (k % 5 === 0) ? 8 : 4;
      ctx.moveTo(px, a.bottom); ctx.lineTo(px, a.bottom - len);
      ctx.moveTo(px, a.top); ctx.lineTo(px, a.top + len);
    }
    ctx.stroke();
    ctx.lineWidth = 2;
    ctx.strokeRect(a.left, a.top, a.right - a.left, a.bottom - a.top);
    ctx.restore();
  }
};

function build() {
  Chart.defaults.font.family = SERIF;
  const wrap = document.getElementById('wrap');
  elements.forEach((el, idx) => {
    const r = Math.floor(idx / 4), c = idx % 4;
    const padL = c === 0 ? 120 : 8, padR = 30, padT = 8, padB = r === 6 ? 70 : 8;
    const pw = colX[c+1] - colX[c], ph = rowY[r+1] - rowY[r];
    const W = padL + pw + padR, H = padT + ph + padB;
    const cv = document.createElement('canvas');
    cv.width = W; cv.height = H;
    cv.style.left = (colX[c] - padL) + 'px';
    cv.style.top = (rowY[r] - padT) + 'px';
    cv.style.width = W + 'px'; cv.style.height = H + 'px';
    wrap.appendChild(cv);
    new Chart(cv, {
      type: 'scatter',
      data: { datasets: [
        { type:'line', data:[{x:xRange[0], y:fitAtLeft[idx]},{x:xRange[1], y:fitAtRight[idx]}], borderColor:'#000', borderWidth:1.3, pointRadius:0, fill:false, order:0 },
        { data: pairs(RED[el]), backgroundColor:'#d40000', borderWidth:0, pointRadius:2.8, order:1 },
        { data: pairs(GRAY[el]), backgroundColor:'#c8c8c8', borderWidth:0, pointRadius:2.8, order:2 },
        { type:'line', data:[{x:xRange[0], y:0},{x:xRange[1], y:0}], borderColor:'#6a6a6a', borderWidth:1.5, borderDash:[21,24], borderDashOffset:40, pointRadius:0, fill:false, order:3 }
      ]},
      options: {
        responsive:false, animation:false, devicePixelRatio:1, events:[],
        layout:{ padding:{ top:padT, right:padR, left:0, bottom:0 } },
        plugins:{ legend:{display:false}, tooltip:{enabled:false}, panelDecor:{ label: el } },
        scales:{
          x:{ type:'linear', min:xRange[0], max:xRange[1],
              grid:{display:false, drawTicks:false}, border:{display:false},
              ticks:{ display: r === 6, color:'#000', font:{family:SERIF, size:33}, padding:12, autoSkip:false, maxRotation:0, callback:(v)=>Number(v).toFixed(1) },
              afterBuildTicks:(s)=>{ s.ticks = xTickValues.map(v=>({value:v})); },
              afterFit:(s)=>{ s.height = padB; s.paddingLeft = 0; s.paddingRight = 0; } },
          y:{ type:'linear', min:yRange[0], max:yRange[1],
              grid:{display:false, drawTicks:false}, border:{display:false},
              ticks:{ display: c === 0, color:'#000', font:{family:SERIF, size:33}, padding:12, autoSkip:false, callback:(v)=>String(v) },
              title:{ display: c === 0, text:'[X/Fe]', color:'#000', font:{family:SERIF, size:33}, padding:{top:25, bottom:0} },
              afterBuildTicks:(s)=>{ s.ticks = yTickValues.map(v=>({value:v})); },
              afterFit:(s)=>{ s.width = padL; s.paddingTop = 0; s.paddingBottom = 0; } }
        }
      },
      plugins:[panelDecor]
    });
  });
}

let built = false;
function go(){ if (!built) { built = true; build(); } }
if (document.fonts && document.fonts.load) {
  Promise.all([document.fonts.load('33px "Liberation Serif"'), document.fonts.load('27px "Liberation Serif"')])
    .then(go, go);
  setTimeout(go, 1500);
} else { go(); }
</script></body></html>
